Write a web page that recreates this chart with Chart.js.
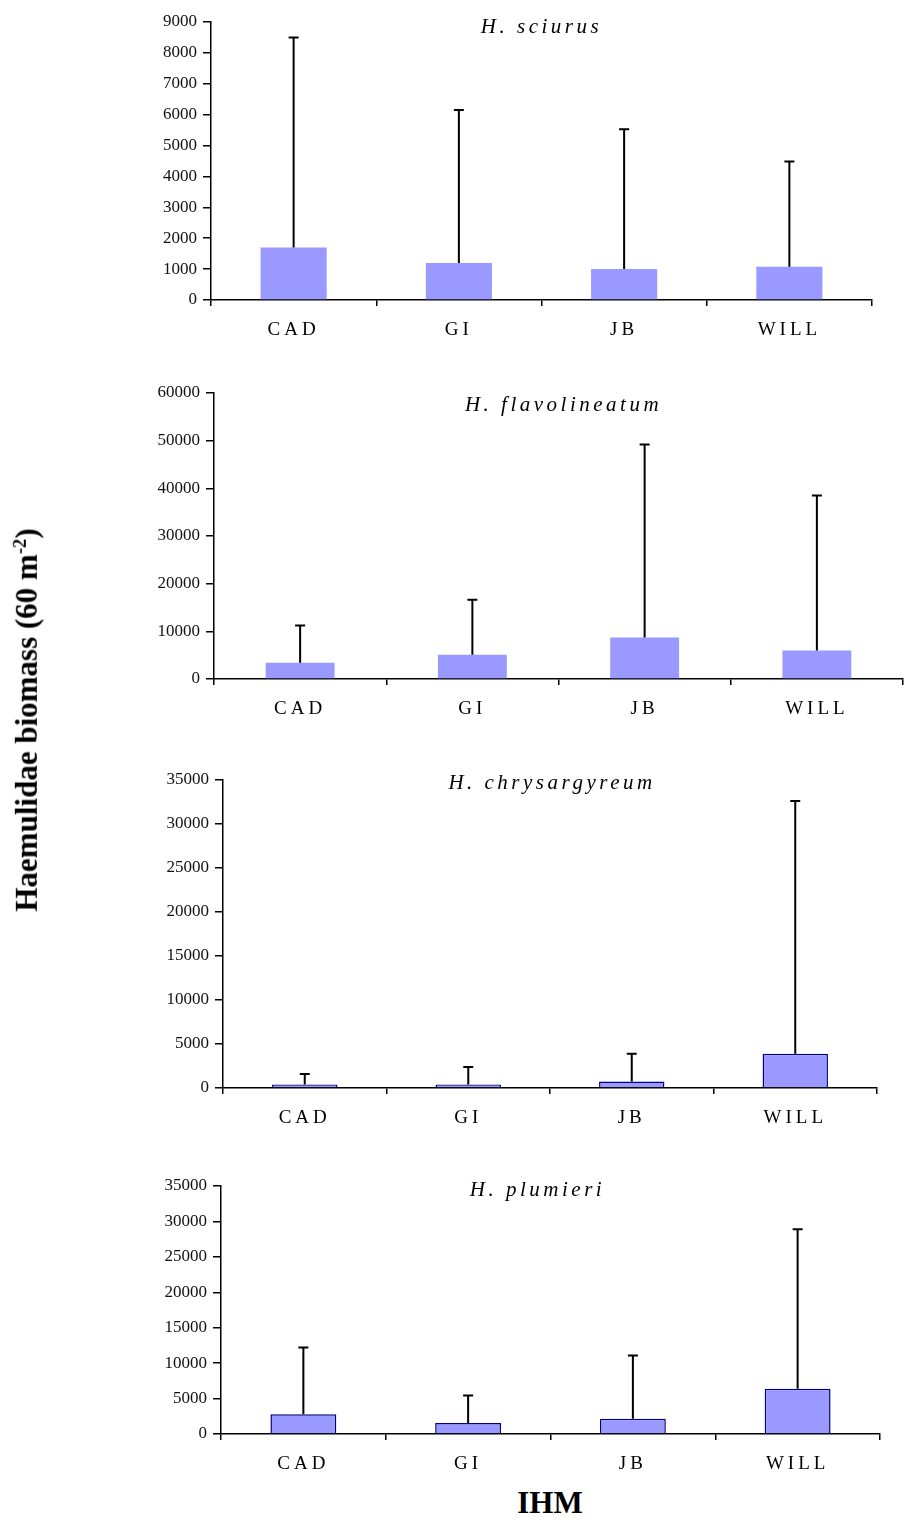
<!DOCTYPE html>
<html>
<head>
<meta charset="utf-8">
<script src="https://cdn.jsdelivr.net/npm/chart.js@4"></script>
<style>
  body { margin: 0; background: #fff; }
  #wrap { position: relative; width: 915px; height: 1522px; overflow: hidden; }
  canvas { position: absolute; left: 0; }
  .axis-title { position: absolute; font-family: "Liberation Serif", "Times New Roman", serif; font-weight: bold; font-size: 31px; color: #000; white-space: nowrap; }
  #ylab { left: 27px; top: 720px; transform: translate(-50%, -50%) rotate(-90deg); }
  #xlab { left: 550px; top: 1503px; transform: translate(-50%, -50%); }
  sup { font-size: 60%; }
</style>
</head>
<body>
<div id="wrap">
  <canvas id="c0" width="915" height="350" style="top:0px"></canvas>
  <canvas id="c1" width="915" height="370" style="top:360px"></canvas>
  <canvas id="c2" width="915" height="400" style="top:740px"></canvas>
  <canvas id="c3" width="915" height="330" style="top:1150px"></canvas>
  <div class="axis-title" id="ylab">Haemulidae biomass (60 m<sup>-2</sup>)</div>
  <div class="axis-title" id="xlab">IHM</div>
</div>
<script>
// sites (IHM)
var categories = ['CAD', 'GI', 'JB', 'WILL'];

// mean biomass and SD per species
var sciurusMean = [1700, 1200, 1000, 1080];
var sciurusSd = [6800, 4950, 4530, 3400];
var flavoMean = [3400, 5100, 8700, 6000];
var flavoSd = [7800, 11550, 40500, 32500];
var chrysMean = [400, 400, 750, 3900];
var chrysSd = [1190, 1980, 3150, 28700];
var plumMean = [2800, 1550, 2150, 6380];
var plumSd = [9400, 3890, 8920, 22520];

var titles = ['H. sciurus', 'H. flavolineatum', 'H. chrysargyreum', 'H. plumieri'];
var yMax = [9000, 60000, 35000, 35000];
var yStep = [1000, 10000, 5000, 5000];

var means = [sciurusMean, flavoMean, chrysMean, plumMean];
var sds = [sciurusSd, flavoSd, chrysSd, plumSd];

// where each panel's plot area sits inside its canvas
var panels = [
  {left: 211, padTop: 22, padRight: 43, padBottom: 10, outlined: false, titleDx: 0, titleDy: 5},
  {left: 214, padTop: 33, padRight: 12, padBottom: 11, outlined: false, titleDx: 5, titleDy: 12},
  {left: 223, padTop: 40, padRight: 38, padBottom: 12, outlined: true, titleDx: 2, titleDy: 3},
  {left: 221, padTop: 36, padRight: 35, padBottom: 6, outlined: true, titleDx: -13, titleDy: 4}
];

var serif = '"Liberation Serif", "Times New Roman", serif';

var errorBars = {
  id: 'errorBars',
  afterDatasetsDraw: function(chart, args, opts) {
    var ctx = chart.ctx;
    var y = chart.scales.y;
    var meta = chart.getDatasetMeta(0);
    ctx.save();
    ctx.strokeStyle = '#000';
    ctx.lineWidth = 2;
    meta.data.forEach(function(bar, i) {
      var top = y.getPixelForValue(means[opts.panel][i] + opts.values[i]);
      ctx.beginPath();
      ctx.moveTo(bar.x, bar.y);
      ctx.lineTo(bar.x, top);
      ctx.moveTo(bar.x - 5, top);
      ctx.lineTo(bar.x + 5, top);
      ctx.stroke();
    });
    ctx.restore();
  }
};

var panelTitle = {
  id: 'panelTitle',
  afterDraw: function(chart, args, opts) {
    var ctx = chart.ctx;
    var a = chart.chartArea;
    ctx.save();
    ctx.font = 'italic 21px ' + serif;
    ctx.letterSpacing = '3.5px';
    ctx.fillStyle = '#000';
    ctx.textAlign = 'center';
    ctx.textBaseline = 'middle';
    ctx.fillText(opts.text, (a.left + a.right) / 2 + opts.dx, a.top + opts.dy);
    ctx.restore();
  }
};

function spacedLabels(scale) {
  if (scale._spaced) return;
  var orig = scale.drawLabels;
  scale.drawLabels = function(area) {
    this.ctx.save();
    this.ctx.letterSpacing = '4px';
    orig.call(this, area);
    this.ctx.restore();
  };
  scale._spaced = true;
}

function makePanel(i) {
  var p = panels[i];
  new Chart(document.getElementById('c' + i), {
    type: 'bar',
    data: {
      labels: categories,
      datasets: [{
        data: means[i],
        backgroundColor: '#9999ff',
        borderColor: '#000080',
        borderWidth: p.outlined ? 1.5 : 0,
        barPercentage: 0.4,
        categoryPercentage: 1
      }]
    },
    options: {
      responsive: false,
      animation: false,
      layout: {padding: {top: p.padTop, right: p.padRight, bottom: p.padBottom, left: 0}},
      plugins: {
        legend: {display: false},
        tooltip: {enabled: false},
        errorBars: {values: sds[i], panel: i},
        panelTitle: {text: titles[i], dx: p.titleDx, dy: p.titleDy}
      },
      scales: {
        x: {
          grid: {offset: true, drawOnChartArea: false, tickLength: 6, color: '#000', lineWidth: 1.5},
          border: {color: '#000', width: 1.5},
          ticks: {font: {family: serif, size: 19}, color: '#000', padding: 13, maxRotation: 0},
          afterFit: function(s) { s.height = 40; spacedLabels(s); }
        },
        y: {
          min: 0,
          max: yMax[i],
          grid: {drawOnChartArea: false, tickLength: 8, color: '#000', lineWidth: 1.5},
          border: {color: '#000', width: 1.5},
          ticks: {
            stepSize: yStep[i],
            font: {family: serif, size: 17},
            color: '#111',
            padding: 6,
            callback: function(v) { return String(v); }
          },
          afterFit: function(s) { s.width = p.left; }
        }
      }
    },
    plugins: [errorBars, panelTitle]
  });
}

for (var i = 0; i < 4; i++) makePanel(i);
</script>
</body>
</html>
